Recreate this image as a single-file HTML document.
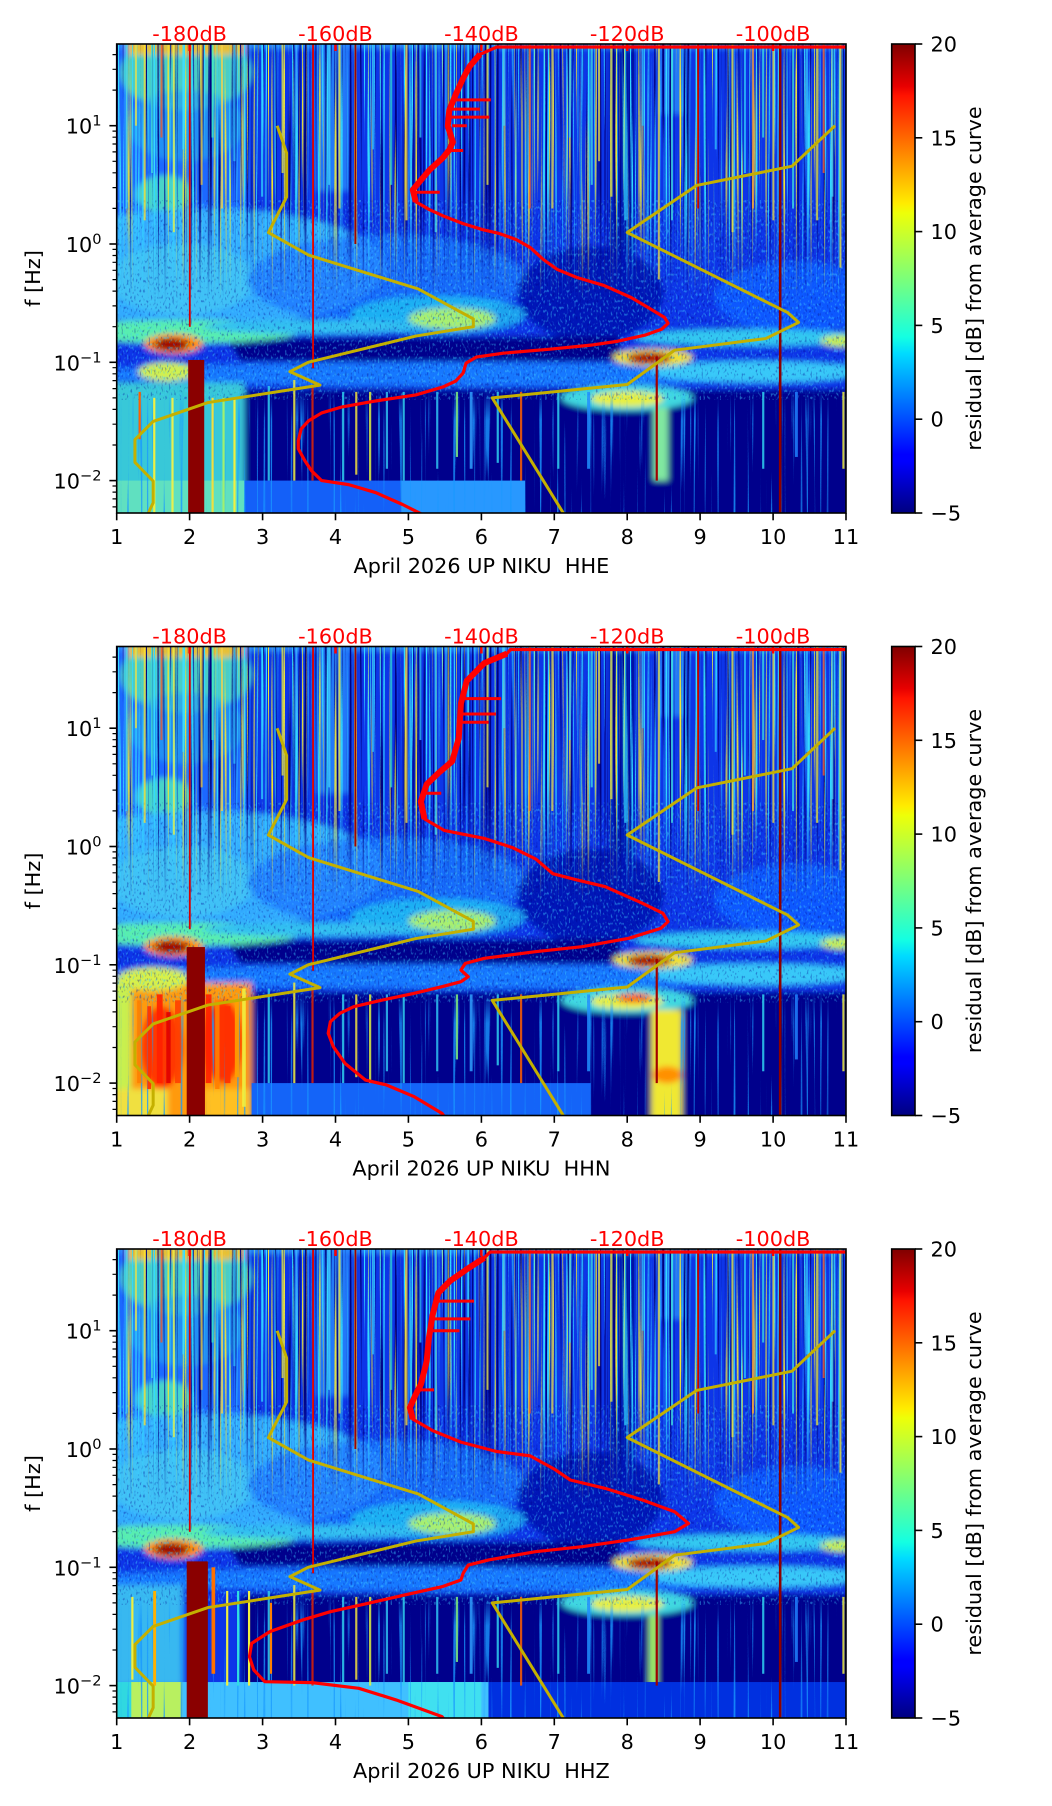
<!DOCTYPE html>
<html><head><meta charset="utf-8">
<style>
html,body{margin:0;padding:0;background:#fff;}
svg{display:block;}
text{font-family:"DejaVu Sans","Liberation Sans",sans-serif;}
</style></head><body>
<svg width="1052" height="1806" viewBox="0 0 1052 1806" xmlns="http://www.w3.org/2000/svg" xmlns:xlink="http://www.w3.org/1999/xlink">
<defs>
 <clipPath id="pc"><rect x="116.7" y="44" width="729.3" height="469"/></clipPath>
 <filter id="b3" x="-10%" y="-10%" width="120%" height="120%"><feGaussianBlur stdDeviation="3"/></filter>
 <filter id="fCy" x="0" y="0" width="1" height="1" color-interpolation-filters="sRGB">
  <feTurbulence type="fractalNoise" baseFrequency="0.5 0.003" numOctaves="2" seed="7"/>
  <feColorMatrix type="matrix" values="0 0 0 0 0.2  0 0 0 0 0.85  0 0 0 0 1  8 0 0 0 -4.6"/>
 </filter>
 <filter id="fYe" x="0" y="0" width="1" height="1" color-interpolation-filters="sRGB">
  <feTurbulence type="fractalNoise" baseFrequency="0.5 0.003" numOctaves="2" seed="7"/>
  <feColorMatrix type="matrix" values="0 0 0 0 0.95  0 0 0 0 0.9  0 0 0 0 0.2  0 8 0 0 -5.0"/>
 </filter>
 <filter id="fDk" x="0" y="0" width="1" height="1" color-interpolation-filters="sRGB">
  <feTurbulence type="fractalNoise" baseFrequency="0.4 0.003" numOctaves="2" seed="7"/>
  <feColorMatrix type="matrix" values="0 0 0 0 0  0 0 0 0 0  0 0 0 0 0.5  0 0 -7 0 3.1"/>
 </filter>
 <filter id="fLo" x="0" y="0" width="1" height="1" color-interpolation-filters="sRGB">
  <feTurbulence type="fractalNoise" baseFrequency="0.3 0.004" numOctaves="2" seed="11"/>
  <feColorMatrix type="matrix" values="0 0 0 0 0.1  0 0 0 0 0.6  0 0 0 0 1  8 0 0 0 -4.8"/>
 </filter>
 <filter id="fSp" x="0" y="0" width="1" height="1" color-interpolation-filters="sRGB">
  <feTurbulence type="fractalNoise" baseFrequency="0.55 0.3" numOctaves="1" seed="5"/>
  <feColorMatrix type="matrix" values="0 0 0 0 0.25  0 0 0 0 0.8  0 0 0 0 1  6 0 0 0 -3.3"/>
 </filter>
 <filter id="fSd" x="0" y="0" width="1" height="1" color-interpolation-filters="sRGB">
  <feTurbulence type="fractalNoise" baseFrequency="0.55 0.3" numOctaves="1" seed="9"/>
  <feColorMatrix type="matrix" values="0 0 0 0 0  0 0 0 0 0  0 0 0 0 0.55  -6 0 0 0 2.6"/>
 </filter>
 <linearGradient id="gUp" gradientUnits="userSpaceOnUse" x1="0" y1="44" x2="0" y2="300">
  <stop offset="0" stop-color="#fff"/><stop offset="0.55" stop-color="#fff"/><stop offset="1" stop-color="#000"/>
 </linearGradient>
 <mask id="mUp" maskUnits="userSpaceOnUse" x="100" y="30" width="760" height="300"><rect x="100" y="30" width="760" height="300" fill="url(#gUp)"/></mask>
 <linearGradient id="gLo" gradientUnits="userSpaceOnUse" x1="0" y1="390" x2="0" y2="513">
  <stop offset="0" stop-color="#000"/><stop offset="0.25" stop-color="#fff"/><stop offset="1" stop-color="#fff"/>
 </linearGradient>
 <mask id="mLo" maskUnits="userSpaceOnUse" x="100" y="380" width="760" height="140"><rect x="100" y="380" width="760" height="140" fill="url(#gLo)"/></mask>
 <linearGradient id="jet" x1="0" y1="1" x2="0" y2="0">
  <stop offset="0" stop-color="#000080"/>
  <stop offset="0.11" stop-color="#0000ff"/>
  <stop offset="0.125" stop-color="#0000ff"/>
  <stop offset="0.34" stop-color="#00dbff"/>
  <stop offset="0.375" stop-color="#14ffe2"/>
  <stop offset="0.5" stop-color="#7cff79"/>
  <stop offset="0.64" stop-color="#eeff08"/>
  <stop offset="0.66" stop-color="#ffec00"/>
  <stop offset="0.75" stop-color="#ff9700"/>
  <stop offset="0.89" stop-color="#ff1300"/>
  <stop offset="0.91" stop-color="#e80000"/>
  <stop offset="1" stop-color="#800000"/>
 </linearGradient>

 <g id="tex">
  <rect x="116.7" y="200" width="729.3" height="200" fill="#000" filter="url(#fSp)" opacity="0.45"/>
  <rect x="116.7" y="200" width="729.3" height="200" fill="#000" filter="url(#fSd)" opacity="0.35"/>
  <g mask="url(#mUp)">
   <rect x="116.7" y="44" width="729.3" height="256" fill="#000" filter="url(#fDk)"/>
   <rect x="116.7" y="44" width="729.3" height="256" fill="#000" filter="url(#fCy)"/>
   <rect x="116.7" y="44" width="729.3" height="256" fill="#000" filter="url(#fYe)"/>
  </g>
  <g mask="url(#mLo)">
   <rect x="116.7" y="380" width="729.3" height="133" fill="#000" filter="url(#fLo)" opacity="0.8"/>
  </g>
 </g>

 <g id="blobC">
  <rect x="-1" y="-2.6" width="12" height="4.5" fill="#0a36e8"/>
  <rect x="-0.2" y="-0.1" width="2.0" height="1.9" fill="#1a68ff"/>
  <ellipse cx="0.95" cy="1.45" rx="0.9" ry="0.32" fill="#50d8c0" opacity="0.9"/>
  <ellipse cx="0.95" cy="1.0" rx="0.8" ry="0.3" fill="#2aa0f0" opacity="0.7"/>
  <ellipse cx="0.65" cy="0.42" rx="0.38" ry="0.16" fill="#50e0c0" opacity="0.9"/>
  <rect x="2.75" y="0.45" width="0.45" height="1.2" fill="#2890ff" opacity="0.75"/>
  <rect x="6.75" y="-0.2" width="0.35" height="1.9" fill="#0010a0" opacity="0.7"/>
  <rect x="7.45" y="1.1" width="0.35" height="0.6" fill="#30a8ff" opacity="0.6"/>
  <rect x="-0.2" y="1.655" width="10.4" height="0.08" fill="#2a8cff"/>
  <rect x="0.15" y="1.6" width="1.6" height="0.12" fill="#e8c030"/>
  <ellipse cx="1.2" cy="-0.2" rx="2.5" ry="0.5" fill="#36b4ff" opacity="0.92"/>
  <ellipse cx="0.9" cy="-0.3" rx="1.0" ry="0.3" fill="#48d0f0" opacity="0.6"/>
  <ellipse cx="3.7" cy="-0.3" rx="1.9" ry="0.38" fill="#1c78ff" opacity="0.8"/>
  <ellipse cx="6.5" cy="-0.42" rx="1.0" ry="0.4" fill="#0418b8"/>
  <ellipse cx="9.3" cy="-0.45" rx="1.1" ry="0.3" fill="#1058ff"/>
  <ellipse cx="4.4" cy="-0.6" rx="1.2" ry="0.16" fill="#20c8f0" opacity="0.75"/>
  <ellipse cx="4.6" cy="-0.63" rx="0.6" ry="0.09" fill="#a8f070"/>
  <polygon points="1.5,-0.8 6.9,-0.78 6.9,-0.99 1.7,-0.99" fill="#00008c"/>
  <ellipse cx="0.9" cy="-0.74" rx="1.6" ry="0.1" fill="#58eeb0"/>
  <ellipse cx="2.7" cy="-0.7" rx="1.5" ry="0.06" fill="#30c0f0"/>
  <ellipse cx="8.7" cy="-0.79" rx="1.6" ry="0.07" fill="#30c8f0"/>
  <ellipse cx="9.95" cy="-0.82" rx="0.3" ry="0.05" fill="#c8f050"/>
  <ellipse cx="4.5" cy="-1.1" rx="5" ry="0.1" fill="#1878ff"/>
  <ellipse cx="8.8" cy="-1.08" rx="1.5" ry="0.09" fill="#38c8f8"/>
  <rect x="1.7" y="-2.6" width="9" height="1.37" fill="#00008c"/>
  <ellipse cx="7.35" cy="-0.96" rx="0.55" ry="0.075" fill="#f0e030"/>
  <ellipse cx="7.3" cy="-0.965" rx="0.3" ry="0.05" fill="#b00000"/>
  <ellipse cx="7.0" cy="-1.3" rx="0.9" ry="0.11" fill="#40d8e0"/>
  <ellipse cx="7.0" cy="-1.31" rx="0.5" ry="0.065" fill="#e8f040"/>
  <ellipse cx="0.78" cy="-0.845" rx="0.4" ry="0.085" fill="#ff9000"/>
  <ellipse cx="0.75" cy="-0.85" rx="0.24" ry="0.055" fill="#a00000"/>
 </g>

 <g id="stripeU" opacity="0.75">
  <rect x="0.12" y="0.3" width="0.028" height="1.4" fill="#30d0ff"/>
  <rect x="0.25" y="1.0" width="0.028" height="0.7" fill="#f0e040"/>
  <rect x="0.37" y="0.2" width="0.028" height="1.5" fill="#ffe030"/>
  <rect x="0.47" y="0.6" width="0.028" height="1.1" fill="#40e0e0"/>
  <rect x="0.6" y="0.9" width="0.028" height="0.8" fill="#ff5020"/>
  <rect x="0.77" y="0.1" width="0.028" height="1.6" fill="#f0f040"/>
  <rect x="0.9" y="0.8" width="0.028" height="0.9" fill="#40e0ff"/>
  <rect x="1.15" y="0.5" width="0.028" height="1.2" fill="#f0c030"/>
  <rect x="1.3" y="0.9" width="0.028" height="0.8" fill="#40f0c0"/>
  <rect x="1.43" y="0.3" width="0.028" height="1.4" fill="#ffd040"/>
  <rect x="1.6" y="0.7" width="0.028" height="1.0" fill="#30c0ff"/>
  <rect x="1.98" y="0.4" width="0.028" height="1.3" fill="#30d8ff"/>
  <rect x="2.26" y="0.6" width="0.028" height="1.1" fill="#f0f040"/>
  <rect x="2.45" y="1.0" width="0.028" height="0.7" fill="#40c0ff"/>
  <rect x="2.9" y="0.5" width="0.028" height="1.2" fill="#40d0ff"/>
  <rect x="3.04" y="0.3" width="0.028" height="1.4" fill="#f0e040"/>
  <rect x="3.5" y="0.8" width="0.028" height="0.9" fill="#30c0ff"/>
  <rect x="3.75" y="0.5" width="0.028" height="1.2" fill="#30e0e0"/>
  <rect x="3.96" y="0.2" width="0.028" height="1.5" fill="#ffe040"/>
  <rect x="4.15" y="0.9" width="0.028" height="0.8" fill="#30c0ff"/>
  <rect x="4.36" y="0.1" width="0.028" height="1.6" fill="#40e0f0"/>
  <rect x="4.8" y="1.1" width="0.028" height="0.6" fill="#30c0ff"/>
  <rect x="5.07" y="0.5" width="0.028" height="1.2" fill="#f0f040"/>
  <rect x="5.3" y="1.0" width="0.028" height="0.7" fill="#40d0ff"/>
  <rect x="5.65" y="0.3" width="0.028" height="1.4" fill="#ff6020"/>
  <rect x="5.96" y="0.3" width="0.028" height="1.4" fill="#f0e040"/>
  <rect x="6.2" y="0.9" width="0.028" height="0.8" fill="#30c0ff"/>
  <rect x="6.5" y="0.5" width="0.028" height="1.2" fill="#40e0e0"/>
  <rect x="6.6" y="0.7" width="0.028" height="1.0" fill="#f0e040"/>
  <rect x="6.77" y="0.4" width="0.028" height="1.3" fill="#f0f040"/>
  <rect x="6.96" y="0.2" width="0.028" height="1.5" fill="#30d0ff"/>
  <rect x="7.2" y="1.0" width="0.028" height="0.7" fill="#30c0ff"/>
  <rect x="7.42" y="-0.3" width="0.028" height="2.0" fill="#f0e040"/>
  <rect x="7.6" y="0.2" width="0.028" height="1.5" fill="#40e0e0"/>
  <rect x="8.2" y="0.8" width="0.028" height="0.9" fill="#30c0ff"/>
  <rect x="8.43" y="0.1" width="0.028" height="1.6" fill="#f0f040"/>
  <rect x="8.6" y="0.6" width="0.028" height="1.1" fill="#30d0ff"/>
  <rect x="8.71" y="0.3" width="0.028" height="1.4" fill="#ffa030"/>
  <rect x="8.85" y="0.9" width="0.028" height="0.8" fill="#40e0e0"/>
  <rect x="8.99" y="0.2" width="0.028" height="1.5" fill="#f0e040"/>
  <rect x="9.26" y="0.3" width="0.028" height="1.4" fill="#40e0e0"/>
  <rect x="9.45" y="0.8" width="0.028" height="0.9" fill="#30c0ff"/>
  <rect x="9.59" y="0.2" width="0.028" height="1.5" fill="#f0f040"/>
  <rect x="9.68" y="0.6" width="0.028" height="1.1" fill="#ff6020"/>
  <rect x="9.8" y="0.4" width="0.028" height="1.3" fill="#40d0ff"/>
  <rect x="9.91" y="-0.2" width="0.028" height="1.9" fill="#f0f040"/>
 </g>
 <g id="stripeL" opacity="0.85">
  <rect x="2.07" y="-2.0" width="0.03" height="0.8" fill="#30d0f0"/>
  <rect x="2.42" y="-2.0" width="0.03" height="0.85" fill="#f0f040"/>
  <rect x="2.67" y="-2.0" width="0.03" height="0.8" fill="#e02000"/>
  <rect x="3.09" y="-2.0" width="0.03" height="0.75" fill="#30d0f0"/>
  <rect x="3.27" y="-1.95" width="0.03" height="0.7" fill="#f0e040"/>
  <rect x="3.46" y="-2.0" width="0.03" height="0.75" fill="#e0f040"/>
  <rect x="3.69" y="-1.9" width="0.03" height="0.65" fill="#30c0f0"/>
  <rect x="3.92" y="-2.0" width="0.03" height="0.75" fill="#30d0f0"/>
  <rect x="4.38" y="-1.9" width="0.03" height="0.65" fill="#30c0f0"/>
  <rect x="4.65" y="-1.8" width="0.03" height="0.55" fill="#80f080"/>
  <rect x="4.84" y="-1.9" width="0.04" height="0.65" fill="#30a0ff"/>
  <rect x="5.21" y="-1.85" width="0.03" height="0.6" fill="#30d0f0"/>
  <rect x="5.53" y="-2.0" width="0.03" height="0.75" fill="#ff6000"/>
  <rect x="6.04" y="-1.9" width="0.03" height="0.65" fill="#30d0f0"/>
  <rect x="6.45" y="-1.9" width="0.04" height="0.65" fill="#2090ff"/>
  <rect x="8.85" y="-1.9" width="0.03" height="0.65" fill="#30d0f0"/>
  <rect x="9.3" y="-1.8" width="0.04" height="0.55" fill="#2080ff"/>
  <rect x="9.95" y="-1.9" width="0.03" height="0.65" fill="#f0f040"/>
 </g>
 <g id="redLines">
  <rect x="0.99" y="-0.7" width="0.025" height="2.4" fill="#d80000"/>
  <rect x="2.68" y="-1.05" width="0.025" height="2.75" fill="#e00000"/>
  <rect x="3.26" y="0.0" width="0.025" height="1.7" fill="#a00000"/>
  <rect x="7.96" y="0.3" width="0.025" height="1.4" fill="#c00000"/>
  <rect x="9.08" y="-2.4" width="0.035" height="4.1" fill="#8c0000"/>
  <rect x="7.39" y="-2.0" width="0.03" height="1.05" fill="#a00000"/>
 </g>
 <g id="noiseM">
  <polyline vector-effect="non-scaling-stroke" fill="none" stroke="#c4b000" stroke-width="3" stroke-linejoin="round"
   points="2.2,1 2.33,0.7695 2.33,0.398 2.08,0.0969 2.63,-0.0934 4.135,-0.3802 4.89,-0.6335 4.89,-0.699 4.1,-0.7782 2.625,-1 2.375,-1.0792 2.787,-1.1931 1.25,-1.3404 0.5,-1.4997 0.25,-1.6532 0.25,-1.8451 0.5,-2.0043 0.5,-2.1875 0.25,-2.5159"/>
  <polyline vector-effect="non-scaling-stroke" fill="none" stroke="#c4b000" stroke-width="3" stroke-linejoin="round"
   points="9.85,1 9.26,0.6576 7.95,0.4949 7.0,0.0969 9.2,-0.5798 9.35,-0.6628 8.9,-0.7993 7.65,-0.8976 7.0,-1.1875 5.15,-1.301 6.4,-2.55"/>
 </g>

 <g id="axes">
  <g stroke="#000" stroke-width="1.6">
   <line x1="116.7" y1="513" x2="116.7" y2="520.3"/>
   <line x1="189.6" y1="513" x2="189.6" y2="520.3"/>
   <line x1="262.6" y1="513" x2="262.6" y2="520.3"/>
   <line x1="335.5" y1="513" x2="335.5" y2="520.3"/>
   <line x1="408.4" y1="513" x2="408.4" y2="520.3"/>
   <line x1="481.4" y1="513" x2="481.4" y2="520.3"/>
   <line x1="554.3" y1="513" x2="554.3" y2="520.3"/>
   <line x1="627.2" y1="513" x2="627.2" y2="520.3"/>
   <line x1="700.1" y1="513" x2="700.1" y2="520.3"/>
   <line x1="773.1" y1="513" x2="773.1" y2="520.3"/>
   <line x1="846" y1="513" x2="846" y2="520.3"/>
   <line x1="109.4" y1="125.7" x2="116.7" y2="125.7"/>
   <line x1="109.4" y1="244" x2="116.7" y2="244"/>
   <line x1="109.4" y1="362.3" x2="116.7" y2="362.3"/>
   <line x1="109.4" y1="480.6" x2="116.7" y2="480.6"/>
   <line x1="915" y1="44" x2="922.3" y2="44"/>
   <line x1="915" y1="137.8" x2="922.3" y2="137.8"/>
   <line x1="915" y1="231.6" x2="922.3" y2="231.6"/>
   <line x1="915" y1="325.4" x2="922.3" y2="325.4"/>
   <line x1="915" y1="419.2" x2="922.3" y2="419.2"/>
   <line x1="915" y1="513" x2="922.3" y2="513"/>
  </g>
  <path stroke="#000" stroke-width="1.2" fill="none" d="M112.5 506.9H116.7M112.5 498.9H116.7M112.5 492.1H116.7M112.5 486H116.7M112.5 445H116.7M112.5 424.2H116.7M112.5 409.4H116.7M112.5 397.9H116.7M112.5 388.6H116.7M112.5 380.6H116.7M112.5 373.8H116.7M112.5 367.7H116.7M112.5 326.7H116.7M112.5 305.9H116.7M112.5 291.1H116.7M112.5 279.6H116.7M112.5 270.3H116.7M112.5 262.3H116.7M112.5 255.5H116.7M112.5 249.4H116.7M112.5 208.4H116.7M112.5 187.6H116.7M112.5 172.8H116.7M112.5 161.3H116.7M112.5 151.9H116.7M112.5 144H116.7M112.5 137.2H116.7M112.5 131.1H116.7M112.5 90.1H116.7M112.5 69.3H116.7M112.5 54.6H116.7"/>
  <g stroke="#ff0000" stroke-width="2.5">
   <line x1="189.6" y1="44" x2="189.6" y2="51"/>
   <line x1="335.5" y1="44" x2="335.5" y2="51"/>
   <line x1="481.4" y1="44" x2="481.4" y2="51"/>
   <line x1="627.2" y1="44" x2="627.2" y2="51"/>
   <line x1="773.1" y1="44" x2="773.1" y2="51"/>
  </g>
  <rect x="116.7" y="44" width="729.3" height="469" fill="none" stroke="#000" stroke-width="1.6"/>
  <rect x="891.7" y="44" width="23.3" height="469" fill="url(#jet)" stroke="#000" stroke-width="1.6"/>
  <g font-size="20.8" fill="#ff0000" text-anchor="middle">
   <text x="189.6" y="41">-180dB</text>
   <text x="335.5" y="41">-160dB</text>
   <text x="481.4" y="41">-140dB</text>
   <text x="627.2" y="41">-120dB</text>
   <text x="773.1" y="41">-100dB</text>
  </g>
  <g font-size="20.8" fill="#000" text-anchor="middle">
   <text x="116.7" y="544">1</text>
   <text x="189.6" y="544">2</text>
   <text x="262.6" y="544">3</text>
   <text x="335.5" y="544">4</text>
   <text x="408.4" y="544">5</text>
   <text x="481.4" y="544">6</text>
   <text x="554.3" y="544">7</text>
   <text x="627.2" y="544">8</text>
   <text x="700.1" y="544">9</text>
   <text x="773.1" y="544">10</text>
   <text x="846" y="544">11</text>
  </g>
  <g font-size="20.8" fill="#000" text-anchor="end">
   <text x="101.5" y="133.7">10<tspan font-size="14.6" dy="-8">1</tspan></text>
   <text x="101.5" y="252">10<tspan font-size="14.6" dy="-8">0</tspan></text>
   <text x="101.5" y="370.3">10<tspan font-size="14.6" dy="-8">−1</tspan></text>
   <text x="101.5" y="488.6">10<tspan font-size="14.6" dy="-8">−2</tspan></text>
  </g>
  <g font-size="20.8" fill="#000">
   <text x="930.5" y="51.5">20</text>
   <text x="930.5" y="145.3">15</text>
   <text x="930.5" y="239.1">10</text>
   <text x="930.5" y="332.9">5</text>
   <text x="930.5" y="426.7">0</text>
   <text x="930.5" y="520.5">−5</text>
  </g>
  <text font-size="20.8" fill="#000" text-anchor="middle" transform="translate(40 278.5) rotate(-90)">f [Hz]</text>
  <text font-size="20.8" fill="#000" text-anchor="middle" transform="translate(981 278.5) rotate(-90)">residual [dB] from average curve</text>
 </g>
</defs>

<rect width="1052" height="1806" fill="#fff"/>

<!-- ================= PANEL 1 ================= -->
<g>
 <g clip-path="url(#pc)">
  <g filter="url(#b3)"><g transform="translate(116.7 244) scale(72.93 -118.3)">
   <use xlink:href="#blobC"/>
   <rect x="-0.3" y="-2.6" width="2.05" height="1.43" fill="#38c8d8"/>
   <ellipse cx="0.69" cy="-1.08" rx="0.4" ry="0.08" fill="#d0f050"/>
   <rect x="7.36" y="-2.0" width="0.2" height="0.62" fill="#80e8a0"/>
  </g></g>
  <g transform="translate(116.7 244) scale(72.93 -118.3)">
   <rect x="1.75" y="-2.6" width="2.15" height="0.6" fill="#1460f8"/>
   <rect x="3.9" y="-2.6" width="1.7" height="0.6" fill="#2898ff"/>
   <rect x="-0.2" y="-2.6" width="1.95" height="0.6" fill="#60e0c0"/>
  </g>
  <use xlink:href="#tex"/>
  <g transform="translate(116.7 244) scale(72.93 -118.3)">
   <use xlink:href="#stripeU"/>
   <use xlink:href="#stripeL"/>
   <use xlink:href="#redLines"/>
   <rect x="0.3" y="-1.65" width="0.03" height="0.4" fill="#ff6000"/>
   <rect x="0.5" y="-2.3" width="0.03" height="1.0" fill="#f0f040"/>
   <rect x="0.75" y="-2.3" width="0.03" height="1.0" fill="#e8f050"/>
   <rect x="1.3" y="-2.3" width="0.03" height="1.0" fill="#f0e040"/>
   <rect x="1.45" y="-2.3" width="0.03" height="1.0" fill="#a0f070"/>
   <rect x="1.6" y="-2.3" width="0.03" height="1.0" fill="#f0f040"/>
   <rect x="0.98" y="-2.4" width="0.22" height="1.42" fill="#8a0000"/>
   <use xlink:href="#noiseM"/>
   <polyline vector-effect="non-scaling-stroke" fill="none" stroke="#ff0000" stroke-width="3.2" stroke-linejoin="round"
    points="10.2,1.665 5.21,1.665 4.98,1.603 4.84,1.502 4.75,1.401 4.65,1.266 4.56,1.131 4.54,0.997 4.61,0.862 4.56,0.795 4.47,0.727 4.29,0.626 4.15,0.525 4.06,0.458 4.10,0.357 4.29,0.290 4.47,0.239 4.75,0.172 5.02,0.121 5.25,0.088 5.48,0.037 5.67,-0.030 5.85,-0.131 6.04,-0.215 6.31,-0.283 6.68,-0.350 7.05,-0.451 7.28,-0.535 7.51,-0.620 7.56,-0.670 7.47,-0.721 7.24,-0.771 6.87,-0.822 6.50,-0.855 5.94,-0.889 5.30,-0.923 4.93,-0.956 4.79,-1.007 4.75,-1.091 4.65,-1.158 4.47,-1.209 4.10,-1.276 3.55,-1.327 3.09,-1.377 2.81,-1.428 2.63,-1.495 2.53,-1.562 2.49,-1.663 2.49,-1.731 2.58,-1.832 2.67,-1.916 2.81,-2.000 3.18,-2.034 3.55,-2.101 3.92,-2.202 4.19,-2.286 4.3,-2.33"/>
   <polyline vector-effect="non-scaling-stroke" fill="none" stroke="#ff0000" stroke-width="6" stroke-linejoin="round"
    points="4.98,1.603 4.84,1.502 4.75,1.401 4.65,1.266 4.56,1.131 4.54,0.997 4.61,0.862 4.56,0.795 4.47,0.727 4.29,0.626 4.15,0.525 4.06,0.458 4.10,0.357"/>
   <path vector-effect="non-scaling-stroke" fill="none" stroke="#ff0000" stroke-width="3" d="M4.6 1.218H5.13M4.58 1.14H4.98M4.56 1.072H5.11M4.1 0.437H4.43M4.55 0.79H4.75M4.6 1.0H4.8"/>
  </g>
 </g>
 <use xlink:href="#axes"/>
 <text x="481.4" y="573" font-size="20.8" fill="#000" text-anchor="middle">April 2026 UP NIKU&#160; HHE</text>
</g>

<!-- ================= PANEL 2 ================= -->
<g transform="translate(0 602.5)">
 <g clip-path="url(#pc)">
  <g filter="url(#b3)"><g transform="translate(116.7 244) scale(72.93 -118.3)">
   <use xlink:href="#blobC"/>
   <rect x="-0.3" y="-2.6" width="2.15" height="1.45" fill="#ff9a10"/>
   <rect x="-0.3" y="-2.6" width="0.5" height="1.45" fill="#c8f050"/>
   <ellipse cx="0.62" cy="-1.7" rx="0.3" ry="0.35" fill="#ff3800"/>
   <ellipse cx="1.45" cy="-1.65" rx="0.28" ry="0.35" fill="#ff3000"/>
   <ellipse cx="0.5" cy="-1.12" rx="0.5" ry="0.1" fill="#d8f048"/>
   <rect x="-0.3" y="-2.6" width="1.0" height="0.55" fill="#f0e040"/>
   <rect x="1.2" y="-2.6" width="0.65" height="0.55" fill="#ffc020"/>
   <rect x="7.33" y="-2.6" width="0.42" height="1.22" fill="#f0e830"/>
   <ellipse cx="7.55" cy="-1.93" rx="0.2" ry="0.07" fill="#ff9000"/>
   <ellipse cx="7.1" cy="-1.28" rx="0.25" ry="0.04" fill="#ff6000"/>
  </g></g>
  <g transform="translate(116.7 244) scale(72.93 -118.3)">
   <rect x="1.85" y="-2.6" width="4.65" height="0.6" fill="#1464f8"/>
  </g>
  <use xlink:href="#tex"/>
  <g transform="translate(116.7 244) scale(72.93 -118.3)">
   <use xlink:href="#stripeU"/>
   <use xlink:href="#stripeL"/>
   <use xlink:href="#redLines"/>
   <g opacity="0.9">
    <rect x="0.28" y="-2.0" width="0.06" height="0.7" fill="#ff8000"/>
    <rect x="0.42" y="-2.05" width="0.05" height="0.7" fill="#ff3000"/>
    <rect x="0.55" y="-2.0" width="0.08" height="0.75" fill="#ff2000"/>
    <rect x="0.68" y="-2.0" width="0.06" height="0.6" fill="#e00000"/>
    <rect x="0.8" y="-2.0" width="0.08" height="0.7" fill="#ff4000"/>
    <rect x="1.22" y="-2.0" width="0.08" height="0.75" fill="#ff2000"/>
    <rect x="1.35" y="-2.05" width="0.06" height="0.75" fill="#ff8000"/>
    <rect x="1.48" y="-2.0" width="0.08" height="0.65" fill="#ff3000"/>
    <rect x="1.62" y="-1.95" width="0.06" height="0.65" fill="#ffa000"/>
    <rect x="1.72" y="-2.2" width="0.05" height="1.0" fill="#f0f040"/>
   </g>
   <rect x="0.96" y="-2.4" width="0.25" height="1.55" fill="#8a0000"/>
   <use xlink:href="#noiseM"/>
   <polyline vector-effect="non-scaling-stroke" fill="none" stroke="#ff0000" stroke-width="3.2" stroke-linejoin="round"
    points="10.2,1.665 5.40,1.665 5.35,1.63 5.04,1.55 4.80,1.40 4.72,1.21 4.69,0.915 4.60,0.72 4.41,0.62 4.25,0.526 4.17,0.38 4.22,0.234 4.49,0.136 5.04,0.068 5.43,-0.01 5.75,-0.107 5.98,-0.23 6.31,-0.283 6.70,-0.340 7.21,-0.480 7.49,-0.565 7.56,-0.635 7.46,-0.692 7.02,-0.776 6.38,-0.847 5.74,-0.889 5.04,-0.945 4.78,-0.988 4.72,-1.044 4.82,-1.100 4.72,-1.143 4.46,-1.185 4.08,-1.241 3.64,-1.298 3.25,-1.354 3.06,-1.410 2.93,-1.481 2.90,-1.579 2.97,-1.692 3.13,-1.833 3.41,-1.974 3.70,-2.016 4.08,-2.115 4.46,-2.256 4.55,-2.33"/>
   <polyline vector-effect="non-scaling-stroke" fill="none" stroke="#ff0000" stroke-width="6" stroke-linejoin="round"
    points="5.35,1.63 5.04,1.55 4.80,1.40 4.72,1.21 4.69,0.915 4.60,0.72 4.41,0.62 4.25,0.526 4.17,0.38 4.22,0.234"/>
   <path vector-effect="non-scaling-stroke" fill="none" stroke="#ff0000" stroke-width="3" d="M4.7 1.25H5.27M4.7 1.12H5.2M4.68 1.05H5.1M4.2 0.45H4.45"/>
  </g>
 </g>
 <use xlink:href="#axes"/>
 <text x="481.4" y="573" font-size="20.8" fill="#000" text-anchor="middle">April 2026 UP NIKU&#160; HHN</text>
</g>

<!-- ================= PANEL 3 ================= -->
<g transform="translate(0 1205)">
 <g clip-path="url(#pc)">
  <g filter="url(#b3)"><g transform="translate(116.7 244) scale(72.93 -118.3)">
   <use xlink:href="#blobC"/>
   <rect x="-0.3" y="-2.0" width="1.2" height="0.85" fill="#38b8f0"/>
   <rect x="7.3" y="-2.0" width="0.12" height="0.6" fill="#a0f060"/>
  </g></g>
  <g transform="translate(116.7 244) scale(72.93 -118.3)">
   <rect x="-0.3" y="-2.6" width="5.4" height="0.63" fill="#40c0ff"/>
   <rect x="-0.3" y="-2.6" width="0.55" height="0.63" fill="#30d8e0"/>
   <rect x="0.2" y="-2.6" width="0.7" height="0.63" fill="#b8f060"/>
   <rect x="4.0" y="-2.6" width="1.0" height="0.63" fill="#40e0f0"/>
   <rect x="5.1" y="-2.6" width="5.5" height="0.63" fill="#0030e0"/>
  </g>
  <use xlink:href="#tex"/>
  <g transform="translate(116.7 244) scale(72.93 -118.3)">
   <use xlink:href="#stripeU"/>
   <use xlink:href="#stripeL"/>
   <use xlink:href="#redLines"/>
   <rect x="0.5" y="-2.0" width="0.04" height="0.8" fill="#ffb000"/>
   <rect x="0.2" y="-1.95" width="0.03" height="0.7" fill="#f0f040"/>
   <rect x="1.3" y="-1.9" width="0.05" height="0.9" fill="#ff7000"/>
   <rect x="1.5" y="-2.0" width="0.03" height="0.8" fill="#f0f040"/>
   <rect x="1.65" y="-2.0" width="0.03" height="0.8" fill="#30e0e0"/>
   <rect x="1.8" y="-2.0" width="0.03" height="0.8" fill="#f0f040"/>
   <rect x="2.1" y="-1.9" width="0.03" height="0.6" fill="#ff8000"/>
   <rect x="0.96" y="-2.4" width="0.29" height="1.45" fill="#8a0000"/>
   <use xlink:href="#noiseM"/>
   <polyline vector-effect="non-scaling-stroke" fill="none" stroke="#ff0000" stroke-width="3.2" stroke-linejoin="round"
    points="10.2,1.665 5.12,1.665 5.04,1.616 4.80,1.519 4.57,1.42 4.41,1.32 4.33,1.13 4.28,0.935 4.25,0.74 4.17,0.545 4.09,0.448 4.02,0.35 4.06,0.253 4.33,0.156 4.72,0.058 5.20,-0.02 5.67,-0.058 6.0,-0.17 6.22,-0.262 6.70,-0.333 7.21,-0.431 7.65,-0.530 7.84,-0.629 7.65,-0.699 7.02,-0.769 6.38,-0.826 5.74,-0.868 5.10,-0.938 4.82,-0.981 4.75,-1.051 4.72,-1.107 4.46,-1.164 3.95,-1.234 3.44,-1.305 2.93,-1.375 2.55,-1.445 2.10,-1.544 1.85,-1.643 1.82,-1.756 1.88,-1.868 2.03,-1.967 2.68,-1.975 3.32,-2.023 3.83,-2.121 4.46,-2.262 4.55,-2.33"/>
   <polyline vector-effect="non-scaling-stroke" fill="none" stroke="#ff0000" stroke-width="6" stroke-linejoin="round"
    points="5.04,1.616 4.80,1.519 4.57,1.42 4.41,1.32 4.33,1.13 4.28,0.935 4.25,0.74 4.17,0.545 4.09,0.448 4.02,0.35 4.06,0.253"/>
   <path vector-effect="non-scaling-stroke" fill="none" stroke="#ff0000" stroke-width="3" d="M4.35 1.25H4.9M4.3 1.1H4.85M4.28 1.0H4.7M4.1 0.5H4.35"/>
  </g>
 </g>
 <use xlink:href="#axes"/>
 <text x="481.4" y="573" font-size="20.8" fill="#000" text-anchor="middle">April 2026 UP NIKU&#160; HHZ</text>
</g>
</svg>
</body></html>
